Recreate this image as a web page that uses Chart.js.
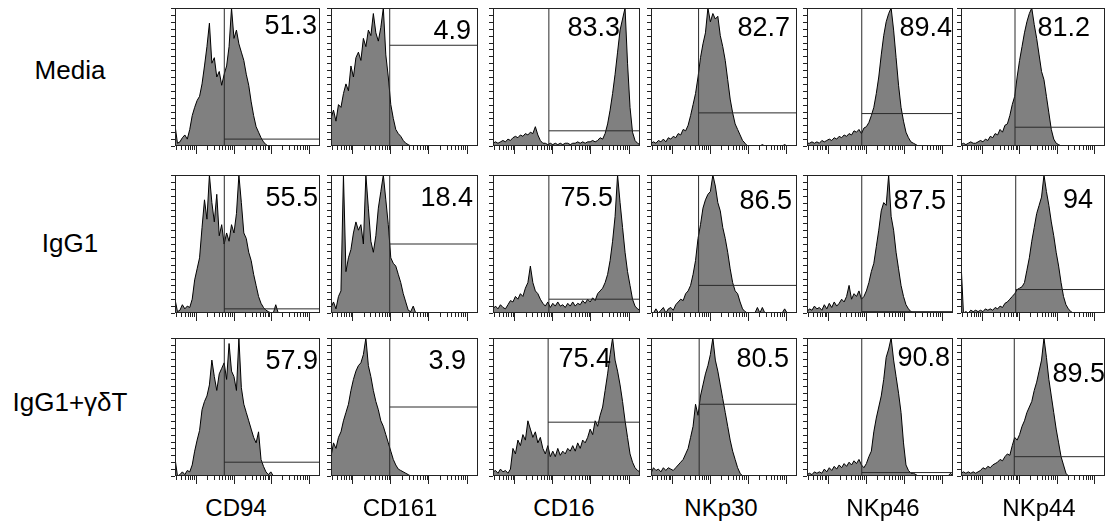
<!DOCTYPE html>
<html lang="en">
<head>
<meta charset="UTF-8">
<title>NK receptor histograms</title>
<script src="https://cdn.jsdelivr.net/npm/chart.js"></script>
<style>
  body { margin: 0; width: 1106px; height: 524px; background: #fff; position: relative; overflow: hidden;
         font-family: Arial, "Liberation Sans", sans-serif; color: #000; }
  canvas { position: absolute; }
  .lbl { position: absolute; line-height: 1; white-space: nowrap; }
  .row-lbl { font-size: 26px; transform: translateX(-50%); }
  .col-lbl { font-size: 24px; transform: translateX(-50%); }
  .pct { font-size: 27px; }
</style>
</head>
<body>
<script>
// conditions (rows) and markers (columns)
const conditions = ['Media', 'IgG1', 'IgG1+\u03b3\u03b4T'];
const markers = ['CD94', 'CD161', 'CD16', 'NKp30', 'NKp46', 'NKp44'];

// % positive in each gate
const pctMedia = ['51.3', '4.9', '83.3', '82.7', '89.4', '81.2'];
const pctIgG1 = ['55.5', '18.4', '75.5', '86.5', '87.5', '94'];
const pctGd = ['57.9', '3.9', '75.4', '80.5', '90.8', '89.5'];

// gate threshold (fluorescence) and gate marker height (% of max count)
const gateXMedia = [5.65, 9.6, 8.07, 4.99, 7.72, 7.72];
const gateXIgG1 = [5.65, 9.6, 8.07, 4.99, 7.72, 8.07];
const gateXGd = [5.65, 9.6, 7.72, 5.17, 7.72, 7.38];
const gateYMedia = [5, 73, 11, 24, 23.5, 13.6];
const gateYIgG1 = [3, 50, 10, 20, 1, 17];
const gateYGd = [10, 50, 39, 52, 2.5, 14];

// histograms: 60 log-spaced bins, counts as % of max
const mediaCD94 = [15,2,3,6,8,5,12,22,28,33, 36,45,58,72,89,60,64,50,54,44, 52,58,72,100,78,84,74,68,62,52,
  44,32,22,14,10,6,3,1,0,0, 0,0,0,0,0,0,0,0,0,0, 0,0,0,0,0,0,0,0,0,0];
const mediaCD161 = [20,26,18,30,28,38,45,40,58,50, 64,68,62,78,72,84,80,96,82,76, 86,100,66,50,30,20,12,9,7,4,
  2,1,0,0,0,0,0,0,0,0, 0,0,0,0,0,0,0,0,0,0, 0,0,0,0,0,0,0,0,0,0];
const mediaCD16 = [2,3,2,3,4,3,5,4,6,7, 6,8,7,9,8,10,9,14,8,4, 2,2,1,2,1,2,1,2,1,2,
  2,1,2,2,3,2,3,2,3,3, 4,3,4,6,5,9,16,26,38,52, 68,84,92,100,60,28,10,4,2,1];
const mediaNKp30 = [2,3,2,4,3,5,3,6,5,7, 6,9,8,12,11,15,22,30,38,50, 64,74,82,100,90,96,92,94,80,72,
  62,48,34,24,16,12,8,4,2,0, 0,0,0,0,0,1,0,0,0,0, 0,0,0,0,1,0,0,0,0,0];
const mediaNKp46 = [2,2,3,2,3,2,4,3,4,5, 4,6,5,7,6,8,7,9,8,11, 10,12,9,13,14,17,22,28,38,50,
  66,80,90,96,100,84,64,44,28,18, 10,6,3,2,1,0,0,0,0,0, 0,0,0,0,0,0,0,0,0,0];
const mediaNKp44 = [1,2,1,2,3,2,2,3,4,3, 5,4,7,6,9,8,12,10,15,16, 22,30,36,50,62,72,82,90,96,100,
  88,78,66,54,48,36,24,12,5,2, 1,0,0,0,0,0,0,0,0,0, 0,0,0,0,0,0,0,0,0,0];

const igg1CD94 = [10,1,2,6,3,5,4,10,24,32, 40,62,82,68,100,80,66,86,56,64, 50,58,52,64,58,72,100,80,58,54,
  44,38,28,20,12,7,4,2,1,0, 0,6,0,0,0,0,0,0,0,0, 0,0,0,0,0,0,0,0,0,0];
const igg1CD161 = [4,8,3,12,16,100,30,40,46,58, 66,60,64,50,100,76,52,44,56,76, 88,100,82,64,40,36,34,28,22,14,
  8,2,1,5,0,0,0,0,0,0, 0,0,0,0,0,0,0,0,0,0, 0,0,0,0,0,0,0,0,0,0];
const igg1CD16 = [3,5,3,6,4,3,6,9,8,12, 10,14,12,18,22,34,22,16,14,10, 7,5,8,4,7,5,8,5,6,4,
  7,5,8,5,7,6,9,7,10,8, 11,9,14,16,18,22,28,38,52,70, 100,80,62,44,30,20,10,5,3,2];
const igg1NKp30 = [0,0,3,0,2,4,0,3,4,2, 6,8,10,9,14,16,20,28,38,54, 64,76,82,86,88,100,92,80,74,62,
  54,44,32,22,16,14,8,3,1,0, 0,0,0,4,0,4,0,0,0,0, 0,0,0,0,3,0,0,0,0,0];
const igg1NKp46 = [1,3,2,5,3,4,2,6,3,7, 4,8,5,7,10,8,12,20,10,14, 12,16,10,12,16,22,30,36,48,60,
  74,80,78,100,70,60,44,32,20,12, 6,3,1,0,0,0,0,0,0,0, 0,0,0,0,0,0,0,0,0,0];
const igg1NKp44 = [37,0,1,0,2,1,2,1,2,1, 3,2,3,2,4,3,5,4,7,8, 10,12,14,17,18,19,22,31,40,52,
  62,72,78,84,100,88,78,66,56,44, 34,22,12,6,3,1,0,0,0,0, 0,0,0,0,0,0,0,0,0,0];

const gdCD94 = [13,0,1,3,1,4,3,8,18,26, 33,48,54,58,66,84,72,62,74,78, 82,70,96,76,72,62,100,64,52,46,
  40,34,28,24,32,12,7,3,1,3, 0,0,0,0,0,0,0,0,0,0, 0,0,0,0,0,0,0,0,0,0];
const gdCD161 = [14,24,20,28,32,40,46,52,62,70, 76,80,82,88,100,80,72,62,54,48, 40,36,30,24,18,12,8,5,4,3,
  2,1,0,0,0,0,0,0,0,0, 0,0,0,0,0,0,0,0,0,0, 0,0,0,0,0,0,0,0,0,0];
const gdCD16 = [3,4,2,5,3,4,2,5,20,16, 26,22,30,26,40,34,28,32,24,28, 20,16,22,14,18,14,20,15,18,16,
  20,18,22,18,24,20,26,24,28,34, 30,40,36,44,50,62,74,88,100,84, 76,66,54,40,28,16,10,6,4,3];
const gdNKp30 = [2,6,4,5,3,6,4,6,5,4, 6,8,10,12,16,20,28,36,52,44, 58,66,74,80,88,100,84,76,66,56,
  46,36,26,18,12,6,2,0,0,0, 0,0,0,0,0,0,0,0,0,0, 0,0,0,0,0,0,0,0,0,0];
const gdNKp46 = [1,2,1,3,2,3,2,5,3,6, 4,7,5,8,6,9,7,10,8,11, 9,12,8,6,9,14,18,32,42,50,
  58,70,86,92,100,84,72,60,46,24, 8,4,2,2,1,0,0,0,0,0, 0,0,0,0,0,0,0,0,2,0];
const gdNKp44 = [2,3,2,3,2,3,2,3,4,6, 5,7,6,8,9,10,12,11,14,16, 15,22,28,26,30,36,40,46,50,54,
  62,68,76,84,100,86,70,58,46,34, 24,14,8,2,0,0,0,0,0,0, 0,0,0,0,0,0,0,0,0,0];

const hists = [
  [mediaCD94, mediaCD161, mediaCD16, mediaNKp30, mediaNKp46, mediaNKp44],
  [igg1CD94, igg1CD161, igg1CD16, igg1NKp30, igg1NKp46, igg1NKp44],
  [gdCD94, gdCD161, gdCD16, gdNKp30, gdNKp46, gdNKp44]
];
const pcts = [pctMedia, pctIgG1, pctGd];
const gateX = [gateXMedia, gateXIgG1, gateXGd];
const gateY = [gateYMedia, gateYIgG1, gateYGd];

// log axis range (decades)
const X_MIN_EXP = -0.56, X_MAX_EXP = 3.3;
const X_MIN = 10 ** X_MIN_EXP, X_MAX = 10 ** X_MAX_EXP;
const binX = (i, n) => 10 ** (X_MIN_EXP + (X_MAX_EXP - X_MIN_EXP) * i / (n - 1));
const xTickValues = [];
for (let e = -1; e <= 3; e++) {
  for (let m = 1; m <= 9; m++) {
    const v = m * 10 ** e;
    if (v >= X_MIN && v <= X_MAX) xTickValues.push(v);
  }
}

// layout of the grid (frame edges, px)
const colLeft = [175, 331, 493, 651, 807, 961];
const colRight = [320, 478, 640, 797, 953, 1105];
const rowTop = [8, 175, 338];
const rowBottom = [146, 313, 476];
const rowLabelBase = [79, 252, 411];
const colLabelX = [236, 400, 564, 721, 883, 1039];
const labelRight = [[3, 7, 20, 7, 1, 15], [2, 5, 27, 5, 7, 12], [2, 12, 29, 8, 3, 0]];
const labelCapTop = [[7, 12, 9, 9, 9, 9], [12, 12, 12, 15, 15, 14], [12, 12, 10, 10, 9, 25]];
const PAD = { left: 8, top: 2, right: 2, bottom: 10 };

// frame box + axis ticks, drawn from the chart's own scales
const framePlugin = {
  id: 'frame',
  afterDatasetsDraw(chart) {
    const { ctx, chartArea: a, scales: { x, y } } = chart;
    ctx.save();
    ctx.strokeStyle = '#222';
    ctx.lineWidth = 1;
    ctx.beginPath();
    y.ticks.forEach(t => {
      const py = Math.round(y.getPixelForValue(t.value)) + 0.5;
      ctx.moveTo(a.left - 4, py);
      ctx.lineTo(a.left, py);
    });
    x.ticks.forEach(t => {
      const px = Math.round(x.getPixelForValue(t.value)) + 0.5;
      const lg = Math.log10(t.value);
      const major = Math.abs(lg - Math.round(lg)) < 1e-9;
      ctx.moveTo(px, a.bottom);
      ctx.lineTo(px, a.bottom + (major ? 8 : 4));
    });
    ctx.stroke();
    ctx.strokeRect(Math.round(a.left) + 0.5, Math.round(a.top) + 0.5,
      Math.round(a.right - a.left) - 1, Math.round(a.bottom - a.top) - 1);
    ctx.restore();
  }
};

function addLabel(text, cls, left, top, right) {
  const d = document.createElement('div');
  d.className = 'lbl ' + cls;
  d.textContent = text;
  d.style.top = top + 'px';
  if (right !== undefined) d.style.right = right + 'px';
  else d.style.left = left + 'px';
  document.body.appendChild(d);
}

function drawPanel(r, c) {
  const fw = colRight[c] - colLeft[c], fh = rowBottom[r] - rowTop[r];
  const canvas = document.createElement('canvas');
  canvas.width = fw + PAD.left + PAD.right;
  canvas.height = fh + PAD.top + PAD.bottom;
  canvas.style.left = (colLeft[c] - PAD.left) + 'px';
  canvas.style.top = (rowTop[r] - PAD.top) + 'px';
  document.body.appendChild(canvas);

  const h = hists[r][c];
  const gx = gateX[r][c], gy = gateY[r][c];
  const line = { borderColor: '#2a2a2a', borderWidth: 1, pointRadius: 0, fill: false, order: 1 };
  new Chart(canvas, {
    type: 'line',
    data: {
      datasets: [
        { data: h.map((v, i) => ({ x: binX(i, h.length), y: v })), fill: 'origin',
          backgroundColor: '#808080', borderColor: '#000', borderWidth: 1,
          pointRadius: 0, tension: 0, order: 2 },
        Object.assign({ data: [{ x: gx, y: 0 }, { x: gx, y: 100 }] }, line),
        Object.assign({ data: [{ x: gx, y: gy }, { x: X_MAX, y: gy }] }, line)
      ]
    },
    options: {
      responsive: false,
      animation: false,
      events: [],
      layout: { padding: PAD },
      plugins: { legend: { display: false }, tooltip: { enabled: false } },
      scales: {
        x: { type: 'logarithmic', display: false, min: X_MIN, max: X_MAX,
             ticks: { autoSkip: false },
             afterBuildTicks: s => { s.ticks = xTickValues.map(v => ({ value: v })); } },
        y: { display: false, min: 0, max: 100, ticks: { stepSize: 5, autoSkip: false } }
      }
    },
    plugins: [framePlugin]
  });

  // 27px text: cap top sits ~3.5px below the box top
  addLabel(pcts[r][c], 'pct', null, rowTop[r] + labelCapTop[r][c] - 3.5,
    1106 - (colRight[c] - labelRight[r][c]));
}

for (let r = 0; r < 3; r++) {
  addLabel(conditions[r], 'row-lbl', 70, rowLabelBase[r] - 22);
  for (let c = 0; c < 6; c++) drawPanel(r, c);
}
markers.forEach((m, c) => addLabel(m, 'col-lbl', colLabelX[c], 516 - 20.3));
</script>
</body>
</html>
